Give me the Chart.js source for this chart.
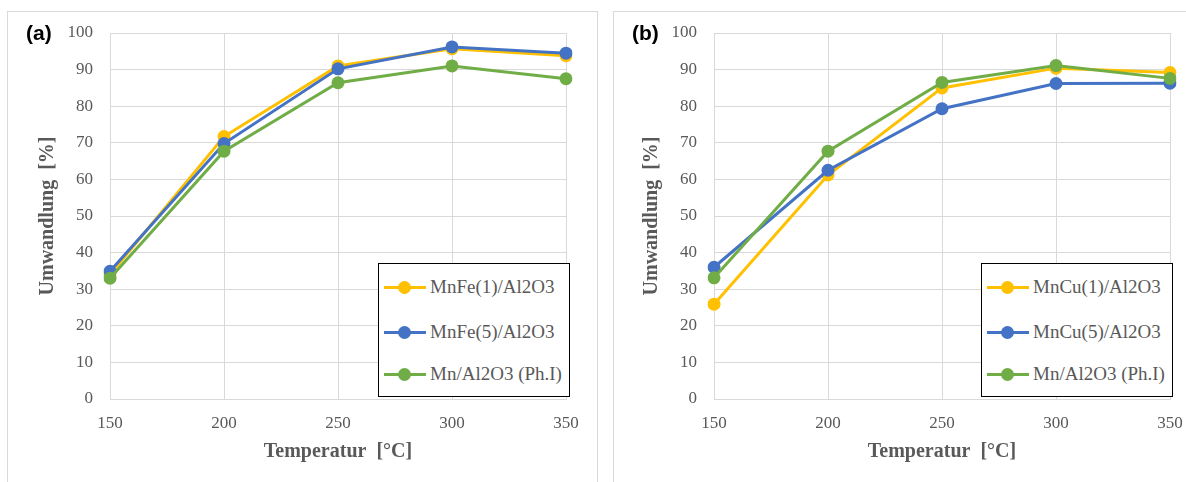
<!DOCTYPE html>
<html>
<head>
<meta charset="utf-8">
<script src="https://cdn.jsdelivr.net/npm/chart.js@4"></script>
<style>
    html, body { margin: 0; padding: 0; background: #fff; overflow: hidden; }
    body { width: 1186px; height: 482px; position: relative; }
    .panel { position: absolute; top: 11px; height: 520px; border: 1px solid #d9d9d9; box-sizing: border-box; }
    .chartBox { position: absolute; top: 0; height: 482px; }
    .tag { position: absolute; top: 21px; font: bold 21px "Liberation Sans", Arial, sans-serif; color: #000; }
    .legend { position: absolute; top: 263px; width: 192px; height: 134px; border: 1px solid #000; box-sizing: border-box; background: #fff; }
    .item { position: absolute; left: 4px; height: 24px; width: 186px; }
    .item .line { position: absolute; left: 1px; top: 11px; width: 42px; height: 3px; }
    .item .dot { position: absolute; left: 15px; top: 6px; width: 13px; height: 13px; border-radius: 50%; }
    .item span { position: absolute; left: 47px; top: 0; font: 19px "Liberation Serif", "Times New Roman", serif; color: #595959; white-space: nowrap; line-height: 24px; }
</style>
</head>
<body>
<div class="panel" style="left:7px; width:591px;"></div>
<div class="panel" style="left:613px; width:600px;"></div>

<div class="chartBox" style="left:0; width:600px;"><canvas id="chartA"></canvas></div>
<div class="chartBox" style="left:604px; width:582px;"><canvas id="chartB"></canvas></div>

<div class="tag" style="left:26px;">(a)</div>
<div class="tag" style="left:632px;">(b)</div>

<div class="legend" id="legendA" style="left:378px;"></div>
<div class="legend" id="legendB" style="left:981px;"></div>

<script>
// Temperatures (x categories)
const temps = ['150', '200', '250', '300', '350'];

// Panel (a)
const mnFe1 = [34.0, 71.7, 91.0, 95.7, 93.8];
const mnFe5 = [34.9, 69.8, 90.2, 96.2, 94.5];
const mnAl = [33.0, 67.7, 86.4, 91.0, 87.5];

// Panel (b)
const mnCu1 = [25.9, 61.2, 85.0, 90.4, 89.2];
const mnCu5 = [36.0, 62.5, 79.3, 86.2, 86.3];
const mnAlB = [33.1, 67.7, 86.5, 91.1, 87.6];

const labelsA = ['MnFe(1)/Al2O3', 'MnFe(5)/Al2O3', 'Mn/Al2O3 (Ph.I)'];
const labelsB = ['MnCu(1)/Al2O3', 'MnCu(5)/Al2O3', 'Mn/Al2O3 (Ph.I)'];
const colors = ['#FFC000', '#4472C4', '#70AD47'];

const yTitle = 'Umwandlung  [%]';
const xTitle = 'Temperatur  [°C]';

const tickColor = '#595959';
const gridColor = '#d9d9d9';

function makeDataset(label, data, color, order) {
    return {
        label: label,
        data: data,
        borderColor: color,
        backgroundColor: color,
        borderWidth: 3,
        pointRadius: 6.5,
        pointBorderWidth: 0,
        pointHoverRadius: 6.5,
        tension: 0,
        order: order
    };
}

function buildChart(canvasId, seriesList, labels, rightPad) {
    const ctx = document.getElementById(canvasId);
    const datasets = seriesList.map((s, i) => makeDataset(labels[i], s, colors[i], 3 - i));

    return new Chart(ctx, {
        type: 'line',
        data: { labels: temps, datasets: datasets },
        options: {
            responsive: true,
            maintainAspectRatio: false,
            animation: false,
            layout: { padding: { top: 33, right: rightPad, bottom: 0, left: 0 } },
            plugins: { legend: { display: false }, tooltip: { enabled: false } },
            scales: {
                x: {
                    type: 'category',
                    offset: false,
                    grid: { color: gridColor, lineWidth: 1, drawTicks: false },
                    border: { color: gridColor },
                    ticks: {
                        color: tickColor,
                        padding: 14,
                        font: { family: 'Liberation Serif', size: 17 },
                        maxRotation: 0
                    },
                    title: {
                        display: true,
                        text: xTitle,
                        color: tickColor,
                        font: { family: 'Liberation Serif', size: 20, weight: 'bold' },
                        padding: { top: 0, bottom: 18 }
                    },
                    afterFit: function(scale) {
                        scale.height = 83;
                        // keep the plot edges fixed, labels may overhang
                        scale.paddingLeft = 0;
                        scale.paddingRight = 0;
                    }
                },
                y: {
                    min: 0,
                    max: 100,
                    grid: { color: gridColor, lineWidth: 1, drawTicks: false },
                    border: { color: gridColor },
                    ticks: {
                        stepSize: 10,
                        color: tickColor,
                        padding: 17,
                        font: { family: 'Liberation Serif', size: 17 }
                    },
                    title: {
                        display: true,
                        text: yTitle,
                        color: tickColor,
                        font: { family: 'Liberation Serif', size: 20, weight: 'bold' },
                        padding: { top: 36, bottom: 0 }
                    },
                    afterFit: function(scale) { scale.width = 110; }
                }
            }
        }
    });
}

function buildLegend(containerId, labels) {
    const box = document.getElementById(containerId);
    const tops = [11, 56, 98];
    labels.forEach((label, i) => {
        const item = document.createElement('div');
        item.className = 'item';
        item.style.top = tops[i] + 'px';
        item.innerHTML = `
            <div class="line" style="background:${colors[i]}"></div>
            <div class="dot" style="background:${colors[i]}"></div>
            <span>${label}</span>
        `;
        box.appendChild(item);
    });
}

buildChart('chartA', [mnFe1, mnFe5, mnAl], labelsA, 34);
buildChart('chartB', [mnCu1, mnCu5, mnAlB], labelsB, 16);
buildLegend('legendA', labelsA);
buildLegend('legendB', labelsB);
</script>
</body>
</html>
